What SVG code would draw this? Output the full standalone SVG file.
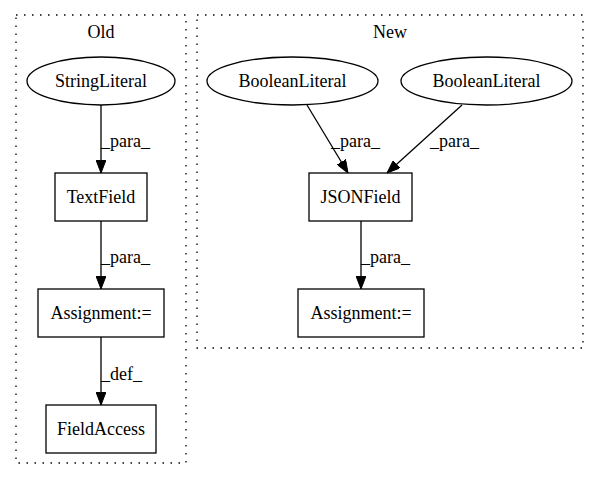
<svg xmlns="http://www.w3.org/2000/svg" width="599" height="480" viewBox="0 0 599 480">
<style>
text{font-family:"Liberation Serif","Times New Roman",serif;font-size:18px;fill:#000}
.n{text-anchor:middle}
.shape{fill:none;stroke:#000;stroke-width:1.3}
.cluster{fill:none;stroke:#000;stroke-width:1.3;stroke-dasharray:1.5,6.5}
.edge{fill:none;stroke:#000;stroke-width:1.3}
</style>
<defs>
<marker id="arr" viewBox="0 0 13 10" refX="13" refY="5" markerWidth="13" markerHeight="10" markerUnits="userSpaceOnUse" orient="auto">
<path d="M0,0 L13,5 L0,10 Z" fill="#000" stroke="#000"/>
</marker>
</defs>
<rect width="599" height="480" fill="#fff"/>
<g id="cluster-old">
<rect class="cluster" x="16" y="15" width="170" height="448"/>
<text class="n" x="101" y="38">Old</text>
</g>
<g id="cluster-new">
<rect class="cluster" x="197" y="15" width="386" height="333"/>
<text class="n" x="390" y="38">New</text>
</g>
<g id="edges">
<line class="edge" x1="101" y1="105" x2="101" y2="173" marker-end="url(#arr)"/>
<text x="101" y="147">_para_</text>
<line class="edge" x1="101" y1="221" x2="101" y2="289" marker-end="url(#arr)"/>
<text x="101" y="263">_para_</text>
<line class="edge" x1="101" y1="337" x2="101" y2="405" marker-end="url(#arr)"/>
<text x="101" y="380">_def_</text>
<line class="edge" x1="307" y1="105" x2="348" y2="173" marker-end="url(#arr)"/>
<text x="331" y="147">_para_</text>
<line class="edge" x1="462" y1="105" x2="387" y2="173" marker-end="url(#arr)"/>
<text x="430" y="147">_para_</text>
<line class="edge" x1="361" y1="221" x2="361" y2="289" marker-end="url(#arr)"/>
<text x="361" y="263">_para_</text>
</g>
<g id="StringLiteral">
<ellipse class="shape" cx="101" cy="81" rx="74" ry="24"/>
<text class="n" x="101" y="87">StringLiteral</text>
</g>
<g id="TextField">
<rect class="shape" x="55" y="173" width="92" height="48"/>
<text class="n" x="101" y="203">TextField</text>
</g>
<g id="AssignmentOld">
<rect class="shape" x="38" y="289" width="126" height="48"/>
<text class="n" x="101" y="319">Assignment:=</text>
</g>
<g id="FieldAccess">
<rect class="shape" x="46" y="405" width="110" height="48"/>
<text class="n" x="101" y="435">FieldAccess</text>
</g>
<g id="BooleanLiteral1">
<ellipse class="shape" cx="292.5" cy="81" rx="85.5" ry="24"/>
<text class="n" x="292.5" y="87">BooleanLiteral</text>
</g>
<g id="BooleanLiteral2">
<ellipse class="shape" cx="486.5" cy="81" rx="85.5" ry="24"/>
<text class="n" x="486.5" y="87">BooleanLiteral</text>
</g>
<g id="JSONField">
<rect class="shape" x="309" y="173" width="103" height="48"/>
<text class="n" x="360.5" y="203">JSONField</text>
</g>
<g id="AssignmentNew">
<rect class="shape" x="298" y="289" width="126" height="48"/>
<text class="n" x="361" y="319">Assignment:=</text>
</g>
</svg>
